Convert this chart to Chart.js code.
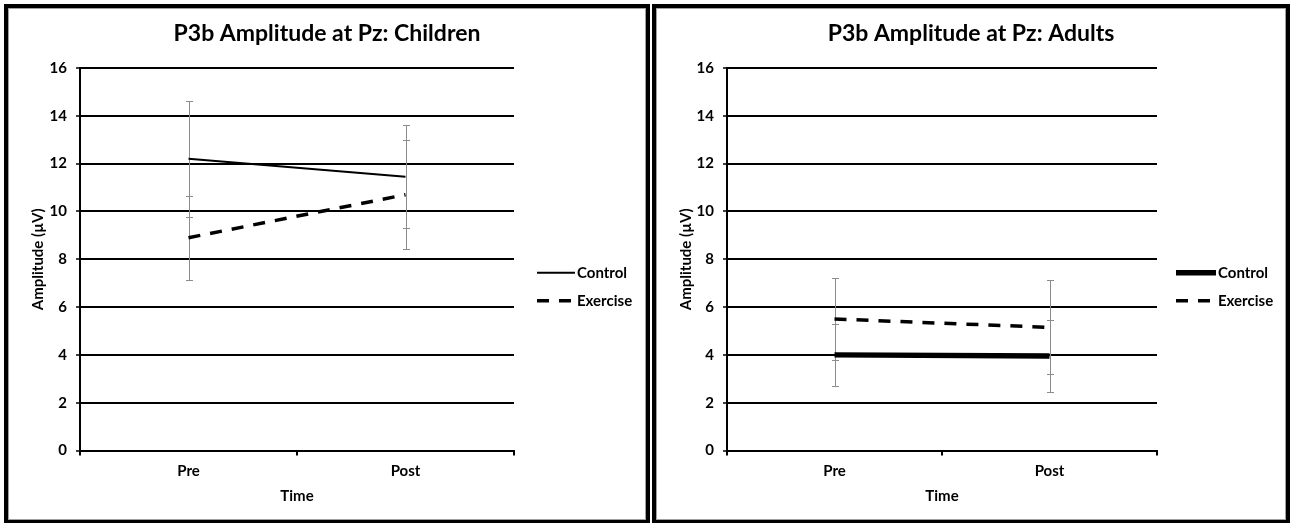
<!DOCTYPE html>
<html lang="en">
<head>
<meta charset="utf-8">
<title>P3b Amplitude at Pz</title>
<script src="https://cdn.jsdelivr.net/npm/chart.js@4.4.1/dist/chart.umd.min.js"></script>
<style>
  html, body { margin: 0; padding: 0; background: #fff; }
  body { position: relative; width: 1293px; height: 523px; overflow: hidden; }
  .panel { position: absolute; top: 4px; height: 519px; box-sizing: border-box;
           border: 4px solid #000; border-bottom-width: 3px; background: #fff; }
  .panel::after { content: ''; position: absolute; inset: 0; box-shadow: inset 0 0 0 1px #a0a0a0; pointer-events: none; }
  #children { left: 4px; width: 646px; }
  #adults { left: 652px; width: 638px; }
  canvas { display: block; }
</style>
</head>
<body>
<div class="panel" id="children"><canvas id="childrenChart" width="638" height="512"></canvas></div>
<div class="panel" id="adults"><canvas id="adultsChart" width="630" height="512"></canvas></div>
<script>
const FONT = 'Lato, "Open Sans", sans-serif';

// Categories, series names and axis range
const categories = ['Pre', 'Post'];
const seriesLabels = ['Control', 'Exercise'];
const yMin = 0;
const yMax = 16;
const yStep = 2;

// Children: mean amplitude (µV) and error-bar half widths
const childrenControl = [12.2, 11.45];
const childrenControlErr = [2.42, 2.15];
const childrenExercise = [8.9, 10.7];
const childrenExerciseErr = [1.75, 2.28];

// Adults: mean amplitude (µV) and error-bar half widths
const adultsControl = [4.0, 3.95];
const adultsControlErr = [1.3, 1.5];
const adultsExercise = [5.5, 5.15];
const adultsExerciseErr = [1.7, 1.97];

// Vertical error bars with caps, drawn under the lines
const errorBarPlugin = {
  id: 'errorBars',
  beforeDatasetsDraw(chart, args, opts) {
    const { ctx } = chart;
    const xs = chart.scales.x, ys = chart.scales.y;
    ctx.save();
    ctx.strokeStyle = opts.color;
    ctx.lineWidth = opts.width;
    chart.data.datasets.forEach(ds => {
      (ds.errorBars || []).forEach((e, i) => {
        const v = ds.data[i];
        const px = Math.round(xs.getPixelForValue(i)) + 0.5;
        const top = Math.round(ys.getPixelForValue(v + e)) + 0.5;
        const bot = Math.round(ys.getPixelForValue(v - e)) + 0.5;
        ctx.beginPath();
        ctx.moveTo(px, top); ctx.lineTo(px, bot);
        ctx.moveTo(px - opts.cap, top); ctx.lineTo(px + opts.cap, top);
        ctx.moveTo(px - opts.cap, bot); ctx.lineTo(px + opts.cap, bot);
        ctx.stroke();
      });
    });
    ctx.restore();
  }
};

// Legend as a right-hand layout box: line sample followed by the series name
function drawSideLegend(chart, box, o) {
  const ctx = chart.ctx;
  ctx.save();
  chart.data.datasets.forEach((ds, i) => {
    const cy = chart.chartArea.top + o.firstRow + i * o.rowGap;
    const x0 = box.left + o.offsetX;
    ctx.strokeStyle = ds.borderColor;
    ctx.lineWidth = ds.borderWidth;
    ctx.lineCap = 'butt';
    ctx.setLineDash(ds.borderDash || []);
    ctx.beginPath();
    ctx.moveTo(x0, cy);
    ctx.lineTo(x0 + o.lineLength, cy);
    ctx.stroke();
    ctx.setLineDash([]);
    ctx.fillStyle = o.color;
    ctx.font = 'bold ' + o.fontSize + 'px ' + FONT;
    ctx.textAlign = 'left';
    ctx.textBaseline = 'middle';
    ctx.fillText(ds.label, x0 + o.lineLength + o.gap, cy);
  });
  ctx.restore();
}

const sideLegendPlugin = {
  id: 'sideLegend',
  start(chart, args, opts) {
    const box = {
      options: {},
      left: 0, top: 0, right: 0, bottom: 0, width: 0, height: 0,
      isHorizontal() { return false; },
      update(maxWidth, maxHeight) { this.width = chart.options.plugins.sideLegend.width; this.height = maxHeight; },
      getPadding() { return { left: 0, top: 0, right: 0, bottom: 0 }; },
      draw() { drawSideLegend(chart, this, chart.options.plugins.sideLegend); }
    };
    Chart.layouts.configure(chart, box, { position: 'right', weight: 1000, fullSize: false });
    Chart.layouts.addBox(chart, box);
    chart.$sideLegend = box;
  },
  stop(chart) {
    Chart.layouts.removeBox(chart, chart.$sideLegend);
    delete chart.$sideLegend;
  }
};

function bold(size) { return { family: FONT, size: size, weight: 'bold' }; }

function buildPanel(canvasId, titleText, control, controlErr, exercise, exerciseErr, g) {
  return new Chart(document.getElementById(canvasId), {
    type: 'line',
    data: {
      labels: categories,
      datasets: [
        { label: seriesLabels[0], data: control, errorBars: controlErr,
          borderColor: '#000', borderWidth: g.controlWidth, pointRadius: 0, tension: 0, fill: false },
        { label: seriesLabels[1], data: exercise, errorBars: exerciseErr,
          borderColor: '#000', borderWidth: 3.5, borderDash: [12, 10], pointRadius: 0, tension: 0, fill: false }
      ]
    },
    options: {
      responsive: false,
      animation: false,
      devicePixelRatio: 1,
      events: [],
      layout: { padding: 0 },
      scales: {
        x: {
          type: 'category',
          offset: true,
          grid: { display: true, offset: true, drawOnChartArea: false, drawTicks: true,
                  tickLength: 5, color: '#000', lineWidth: 2 },
          border: { display: true, color: '#000', width: 2 },
          ticks: { color: '#000', font: bold(15), padding: 7, maxRotation: 0 },
          title: { display: true, text: 'Time', color: '#000', font: bold(15),
                   padding: { top: 0, bottom: 15 } },
          afterFit(scale) { scale.height = g.xHeight; }
        },
        y: {
          min: yMin, max: yMax,
          ticks: { stepSize: yStep, color: '#000', font: bold(15), padding: 9 },
          grid: { color: '#000', lineWidth: 2, tickLength: 4, tickWidth: 1.5, tickColor: '#000' },
          border: { display: true, color: '#000', width: 2 },
          title: { display: true, text: 'Amplitude (µV)', color: '#000', font: bold(15),
                   padding: { top: 21, bottom: 0 } },
          afterFit(scale) { scale.width = g.yWidth; }
        }
      },
      plugins: {
        legend: { display: false },
        tooltip: { enabled: false },
        title: { display: true, text: titleText, color: '#000', font: bold(23),
                 padding: { top: 11.7, bottom: 20.7 } },
        errorBars: { color: '#8c8c8c', width: 1, cap: 3.5 },
        sideLegend: { width: g.legendWidth, offsetX: g.legendX, lineLength: g.legendLine,
                      gap: 2, firstRow: 204.7, rowGap: 28, fontSize: 15, color: '#000' }
      }
    },
    plugins: [errorBarPlugin, sideLegendPlugin]
  });
}

buildPanel('childrenChart', 'P3b Amplitude at Pz: Children',
  childrenControl, childrenControlErr, childrenExercise, childrenExerciseErr,
  { controlWidth: 2, yWidth: 72, xHeight: 69.5, legendWidth: 132, legendX: 23, legendLine: 38 });

buildPanel('adultsChart', 'P3b Amplitude at Pz: Adults',
  adultsControl, adultsControlErr, adultsExercise, adultsExerciseErr,
  { controlWidth: 5.5, yWidth: 71, xHeight: 69.5, legendWidth: 129, legendX: 19, legendLine: 40 });
</script>
</body>
</html>
